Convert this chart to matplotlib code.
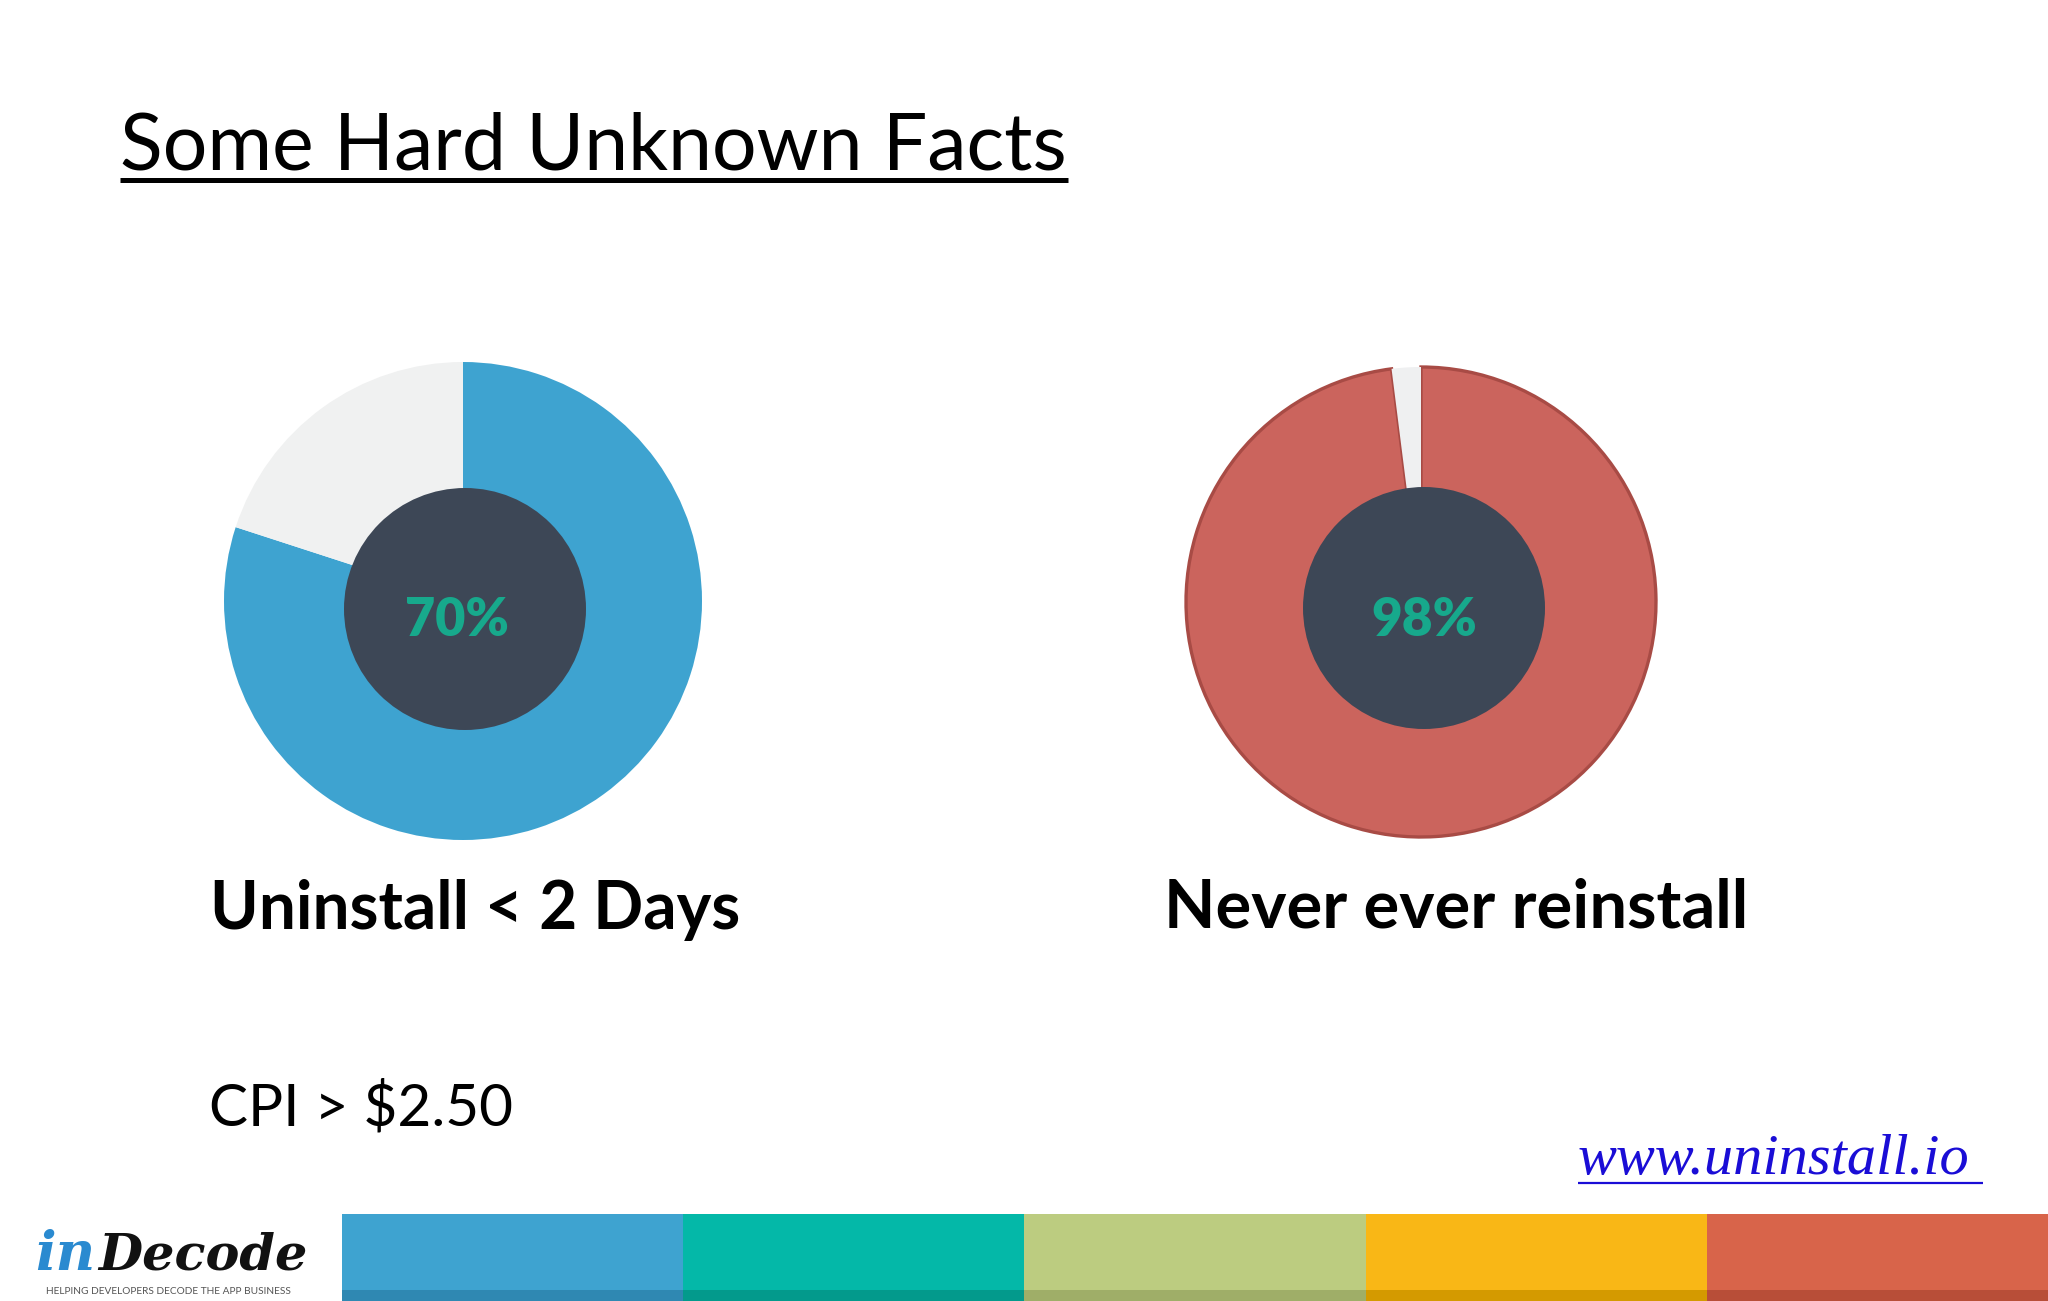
import matplotlib
matplotlib.use("Agg")
import matplotlib.pyplot as plt
from matplotlib.patches import Circle

# ---------------- data ----------------
title = "Some Hard Unknown Facts"
chart_titles = ["Uninstall < 2 Days", "Never ever reinstall"]
center_labels = ["70%", "98%"]
left_values = [80, 20]      # share drawn in the left ring (coloured, rest)
right_values = [98, 2]      # share drawn in the right ring (coloured, rest)
footnote = "CPI > $2.50"
url = "www.uninstall.io"
logo_parts = ["in", "Decode"]
tagline = "HELPING DEVELOPERS DECODE THE APP BUSINESS"
band_colors = ["#3ea3d0", "#04b8a8", "#bccc80", "#f9b716", "#d8644a"]
band_dark = ["#2f88b2", "#039a8c", "#9fae68", "#d49a00", "#b84e38"]

W, H = 2048, 1301
DPI = 100
fig = plt.figure(figsize=(W / DPI, H / DPI), dpi=DPI, facecolor="white")
ax = fig.add_axes([0, 0, 1, 1])


def Y(y):
    return H - y


# ---------------- donuts ----------------
ring_specs = [
    dict(values=left_values, center=(463, 601), r=239, hole=(465, 609), hr=121,
         colors=["#3ea3d0", "#f0f1f1"], edge=None),
    dict(values=right_values, center=(1421, 602), r=235, hole=(1424, 608), hr=121,
         colors=["#cb645d", "#eff0f1"], edge="#a84b45"),
]
for spec, lab in zip(ring_specs, center_labels):
    cx, cy = spec["center"]
    wp = dict(linewidth=0)
    if spec["edge"]:
        wp = dict(linewidth=2.4, edgecolor=spec["edge"])
    wedges, _ = ax.pie(spec["values"], colors=spec["colors"], startangle=90,
                       counterclock=False, center=(cx, Y(cy)), radius=spec["r"],
                       wedgeprops=wp)
    if spec["edge"]:
        wedges[1].set_linewidth(0)
    hx, hy = spec["hole"]
    ax.add_patch(Circle((hx, Y(hy)), spec["hr"], facecolor="#3d4756",
                        edgecolor="none", zorder=5))

ax.set_xlim(0, W)
ax.set_ylim(0, H)
ax.set_aspect("equal")
ax.axis("off")

renderer = fig.canvas.get_renderer()


def fit_text(x, y, s, width, ha="left", va="baseline", **kw):
    t = ax.text(x, Y(y), s, fontsize=20, ha=ha, va=va, zorder=10, **kw)
    bb = t.get_window_extent(renderer)
    t.set_fontsize(20 * width / bb.width)
    return t


# title with underline
fit_text(120, 170, title, 948, family="Lato", color="black")
ax.plot([120, 1068], [Y(180), Y(180)], color="black", lw=3.6, solid_capstyle="butt")

# centre percentages
fit_text(457, 636, center_labels[0], 104, ha="center",
         family="Lato", weight="heavy", color="#17a98c")
fit_text(1424, 636, center_labels[1], 106, ha="center",
         family="Lato", weight="heavy", color="#17a98c")

# chart captions
fit_text(210, 929, chart_titles[0], 530, family="Lato", weight="bold", color="black")
fit_text(1164, 927, chart_titles[1], 585, family="Lato", weight="bold", color="black")

# footnote
fit_text(209, 1126, footnote, 304, family="Lato", color="black")

# url with underline
fit_text(1578, 1174, url, 392, family="Liberation Serif", style="italic",
         color="#1a0dd6")
ax.plot([1578, 1983], [Y(1183), Y(1183)], color="#1a0dd6", lw=1.6,
        solid_capstyle="butt")

# logo
fit_text(35, 1270, logo_parts[0], 60, family="DejaVu Serif", style="italic",
         weight="bold", color="#2a8ad0")
fit_text(98, 1270, logo_parts[1], 209, family="DejaVu Serif", style="italic",
         weight="bold", color="#111111")
fit_text(46, 1291, tagline, 245, va="center", family="Lato", color="#555555")

# colour band at the bottom
x0 = 342
seg = (W - x0) / len(band_colors)
lefts = [x0 + i * seg for i in range(len(band_colors))]
ax.bar(lefts, [Y(1214) - Y(1290)] * len(lefts), width=seg, bottom=Y(1290),
       align="edge", color=band_colors, linewidth=0, zorder=3)
ax.bar(lefts, [Y(1290) - Y(1301)] * len(lefts), width=seg, bottom=Y(1301),
       align="edge", color=band_dark, linewidth=0, zorder=3)

ax.set_xlim(0, W)
ax.set_ylim(0, H)
fig.savefig("out.png", dpi=DPI, facecolor="white")
